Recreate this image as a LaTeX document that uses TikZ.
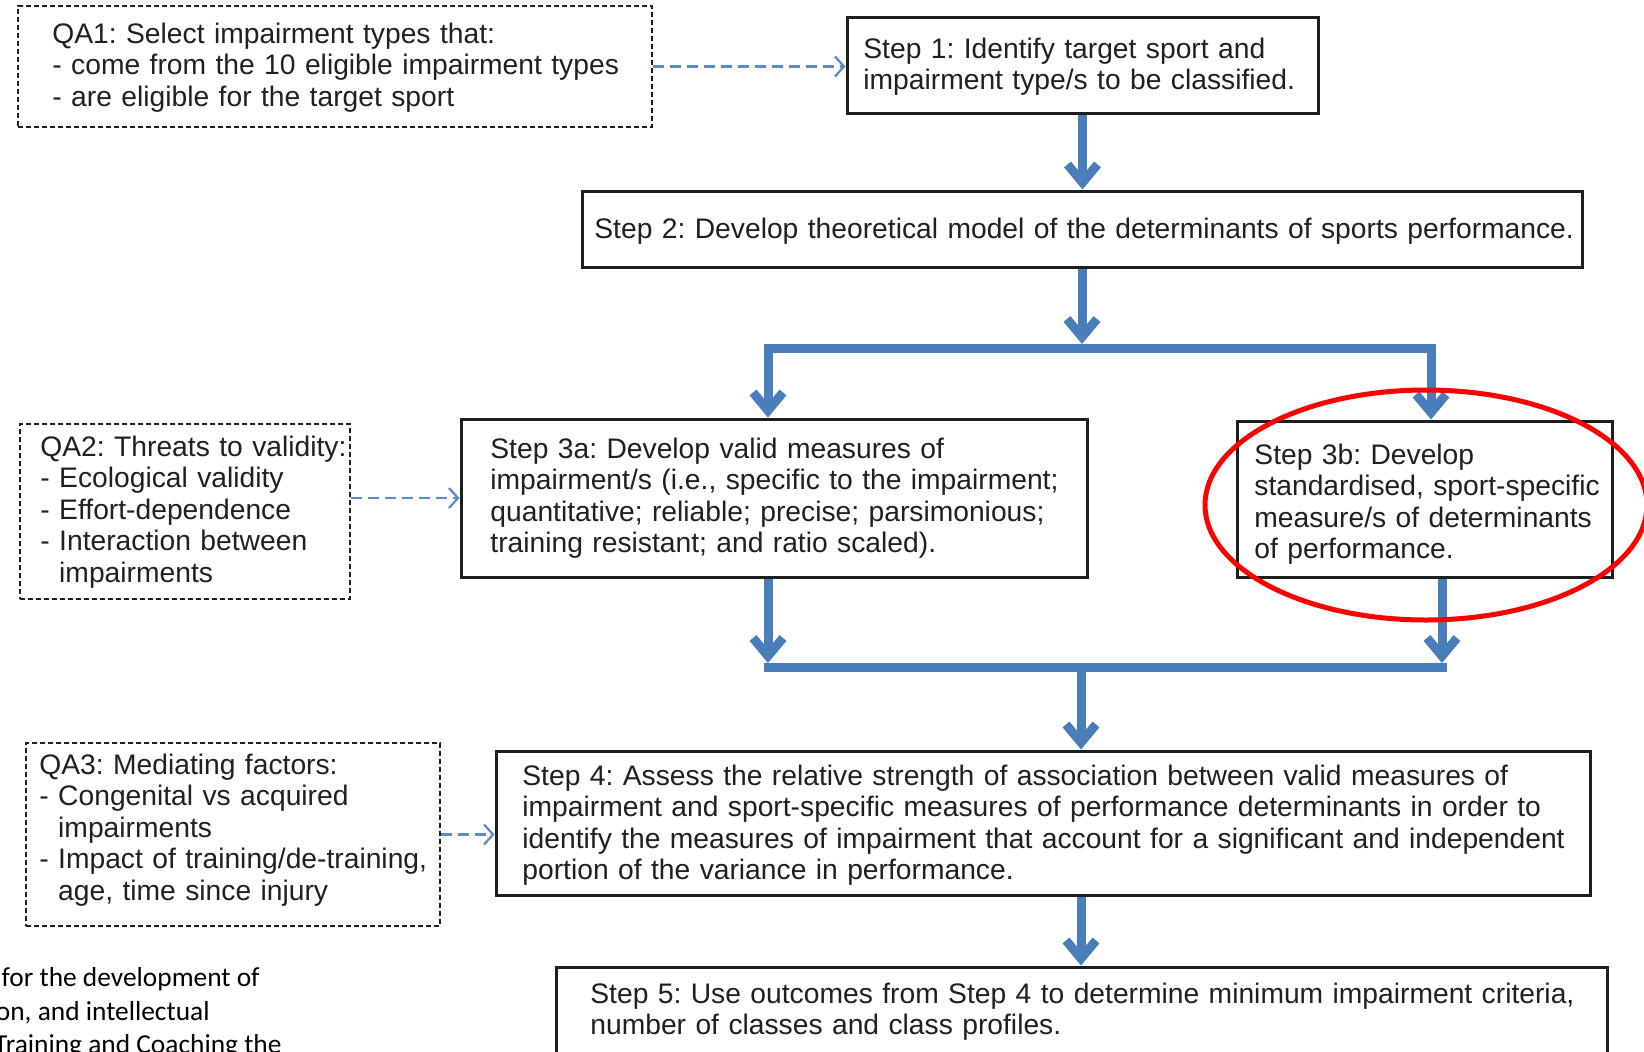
\documentclass[tikz,border=0pt]{standalone}
\usepackage{fontspec}
\setmainfont{Liberation Sans}
\newfontfamily\calib{Carlito}
\usetikzlibrary{arrows.meta,fit}
\definecolor{flowblue}{HTML}{4A7EBB}
\definecolor{dashblue}{HTML}{5A8ACB}
\definecolor{boxline}{HTML}{1E1E1E}
\definecolor{txtgray}{HTML}{231F20}
\frenchspacing
\begin{document}
\begin{tikzpicture}[x=0.5pt,y=-0.5pt,
  sbox/.style={draw=boxline, line width=1.5pt, inner sep=0pt},
  qbox/.style={draw=boxline, line width=0.7pt, dash pattern=on 2.5pt off 1.5pt, inner sep=0pt},
  txt/.style={anchor=base west, inner sep=0pt, align=left, text width=600pt, text=txtgray, font=\fontsize{14.12}{15.75}\selectfont},
  flow/.style={draw=flowblue, line width=4.5pt, line join=miter, -{Straight Barb[length=9pt,width=15pt]}},
  flowbar/.style={draw=flowblue, line width=4.5pt, line cap=rect},
  qa/.style={draw=dashblue, line width=1.1pt, dash pattern=on 5.5pt off 3pt, -{Straight Barb[length=4.5pt,width=10pt]}},
  captxt/.style={anchor=base east, inner sep=0pt, text=black, font=\calib\fontsize{13.7}{16}\selectfont}
]
\useasboundingbox (0,0) rectangle (1644,1051);
\clip (0,0) rectangle (1644,1051);
\fill[white] (0,0) rectangle (1644,1051);

% boxes
\node[sbox, fit={(847,17)(1318,113)}] (s1) {};
\node[sbox, fit={(582,191)(1582,267)}] (s2) {};
\node[sbox, fit={(461,419)(1087,577)}] (s3a) {};
\node[sbox, fit={(1237,421)(1612,577)}] (s3b) {};
\node[sbox, fit={(496,751)(1590,895)}] (s4) {};
\node[sbox, fit={(556,967)(1607,1090)}] (s5) {};
\node[qbox, fit={(18,6)(652,127)}] (qa1) {};
\node[qbox, fit={(20,424)(350,599)}] (qa2) {};
\node[qbox, fit={(26,743)(440,926)}] (qa3) {};

% texts
\node[txt] (s1t) at (863,58) {Step 1: Identify target sport and\\impairment type/s to be classified.};
\node[txt] (s2t) at (594,238) {Step 2: Develop theoretical model of the determinants of sports performance.};
\node[txt] (s3at) at (490,458) {Step 3a: Develop valid measures of\\impairment/s (i.e., specific to the impairment;\\quantitative; reliable; precise; parsimonious;\\training resistant; and ratio scaled).};
\node[txt] (s3bt) at (1254,464) {Step 3b: Develop\\standardised, sport-specific\\measure/s of determinants\\of performance.};
\node[txt] (s4t) at (522,785) {Step 4: Assess the relative strength of association between valid measures of\\impairment and sport-specific measures of performance determinants in order to\\identify the measures of impairment that account for a significant and independent\\portion of the variance in performance.};
\node[txt] (s5t) at (590,1003) {Step 5: Use outcomes from Step 4 to determine minimum impairment criteria,\\number of classes and class profiles.};
\node[txt] (qa1t) at (52,43) {QA1: Select impairment types that:\\- come from the 10 eligible impairment types\\- are eligible for the target sport};
\node[txt] (qa2t) at (40,456) {QA2: Threats to validity:\\- Ecological validity\\- Effort-dependence\\- Interaction between\\\hphantom{- }impairments};
\node[txt] (qa3t) at (39,774) {QA3: Mediating factors:\\- Congenital vs acquired\\\hphantom{- }impairments\\- Impact of training/de-training,\\\hphantom{- }age, time since injury};

% flow coordinates
\coordinate (splitL) at (768,348);
\coordinate (splitR) at (1431,348);
\coordinate (splitTop) at (0,344);
\coordinate (mergeL) at (768,667);
\coordinate (mergeR) at (1442,667);
\coordinate (mergeTop) at (0,663);
\coordinate (mergeC) at (1081,667);
\coordinate (qa2y) at (0,498);

% blue connectors
\draw[flow] (s1.south) -- (s1.south |- s2.north);
\draw[flow] (s2.south) -- (s2.south |- splitTop);
\draw[flow, {Straight Barb[length=9pt,width=15pt]}-{Straight Barb[length=9pt,width=15pt]}]
  (splitL |- s3a.north) -- (splitL) -- (splitR) -- (splitR |- s3b.north);
\draw[flowbar] (mergeL) -- (mergeR);
\draw[flow] (mergeL |- s3a.south) -- (mergeL |- mergeTop);
\draw[flow] (mergeR |- s3b.south) -- (mergeR |- mergeTop);
\draw[flow] (mergeC) -- (mergeC |- s4.north);
\draw[flow] (mergeC |- s4.south) -- (mergeC |- s5.north);

% dashed connectors
\draw[qa] (qa1.east) -- (qa1.east -| s1.west);
\draw[qa] (qa2.east |- qa2y) -- (s3a.west |- qa2y);
\draw[qa] (qa3.east) -- (qa3.east -| s4.west);

% red highlight
\draw[red, line width=2.5pt] (1426,505) ellipse [x radius=221, y radius=115];

% cut-off caption text
\node[captxt] (c1) at (260,986) {for the development of};
\node[captxt] (c2) at (210,1020) {on, and intellectual};
\node[captxt] (c3) at (282,1053) {Training and Coaching the};
\end{tikzpicture}
\end{document}
